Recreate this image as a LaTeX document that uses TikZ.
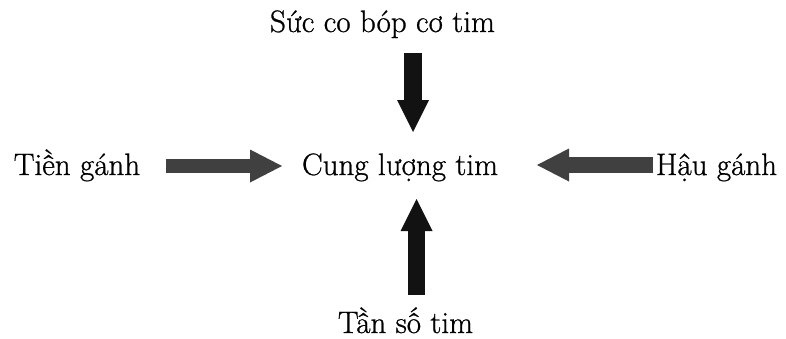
\documentclass[tikz,border=0pt]{standalone}
\usepackage{fontspec}
\newfontfamily\lblfont{Latin Modern Roman}[FakeBold=0.8]
\usetikzlibrary{arrows.meta}
\tikzset{
  lbl/.style={anchor=base, inner sep=0pt, font=\lblfont\fontsize{31}{36}\selectfont},
  hblock/.style={draw=black!75, line width=#1, -{Triangle[length=32pt,width=33pt,line width=0pt]}, black!75},
  vblock/.style={draw=black!93, line width=#1, -{Triangle[length=32pt,width=32pt,line width=0pt]}, black!93}
}
\begin{document}
\begin{tikzpicture}[x=1pt,y=-1pt]
\useasboundingbox (0,0) rectangle (786,338);
\node[lbl] (top) at (382.5,32) {Sức co bóp cơ tim};
\node[lbl] (left) at (77,175) {Tiền gánh};
\node[lbl] (mid) at (400,175) {Cung lượng tim};
\node[lbl] (right) at (716.5,175) {Hậu gánh};
\node[lbl] (bot) at (405.5,333) {Tần số tim};
\coordinate (dS) at (413,53);
\coordinate (dE) at (413,132);
\coordinate (uS) at (416.5,295);
\coordinate (uE) at (416.5,199);
\coordinate (rS) at (166,166);
\coordinate (rE) at (282,166);
\coordinate (lS) at (653,165);
\coordinate (lE) at (537,165);
\draw[vblock=18pt] (dS) -- (dE);
\draw[vblock=17pt] (uS) -- (uE);
\draw[hblock=14pt] (rS) -- (rE);
\draw[hblock=16pt] (lS) -- (lE);
\end{tikzpicture}
\end{document}
